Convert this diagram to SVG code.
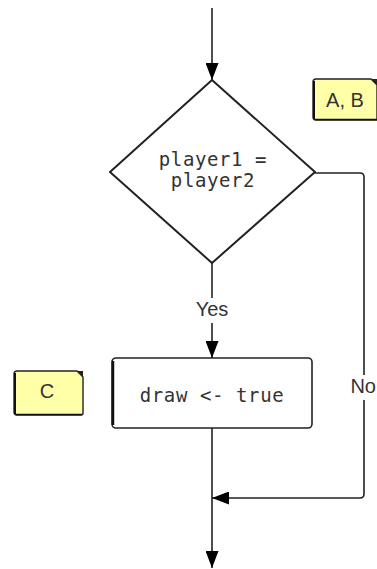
<svg xmlns="http://www.w3.org/2000/svg" width="377" height="569" viewBox="0 0 377 569">
  <defs>
    <marker id="arrow" viewBox="0 0 17 13" refX="17" refY="6.5" markerWidth="17" markerHeight="13" orient="auto" markerUnits="userSpaceOnUse">
      <path d="M0,0 L17,6.5 L0,13 Z" fill="#000"/>
    </marker>
  </defs>
  <style>
    .edge { fill: none; stroke: #222; stroke-width: 1.6; }
    .shape { fill: #fff; stroke: #222; stroke-width: 2; }
    .note { fill: #ffffa8; stroke: #222; stroke-width: 1.4; }
    .code { font-family: "DejaVu Sans Mono", "Liberation Mono", monospace; font-size: 19px; letter-spacing: 0.6px; fill: #333; text-anchor: middle; }
    .label { font-family: "Liberation Sans", Arial, sans-serif; font-size: 20px; fill: #333; text-anchor: middle; }
    .label.end { text-anchor: end; }
  </style>
  <rect width="377" height="569" fill="#fff"/>

  <g id="connectors">
    <!-- entry -->
    <line class="edge" x1="212" y1="8" x2="212" y2="80" marker-end="url(#arrow)"/>
    <!-- yes branch -->
    <line class="edge" x1="212" y1="263" x2="212" y2="298"/>
    <line class="edge" x1="212" y1="323" x2="212" y2="358" marker-end="url(#arrow)"/>
    <!-- no branch -->
    <path class="edge" d="M315,173 H360 Q364,173 364,177 V375"/>
    <path class="edge" d="M364,400 V494 Q364,498 360,498 H212" marker-end="url(#arrow)"/>
    <!-- exit -->
    <line class="edge" x1="212" y1="428" x2="212" y2="568" marker-end="url(#arrow)"/>
    <text class="label" x="212" y="316">Yes</text>
    <text class="label end" x="376" y="393">No</text>
  </g>

  <g id="decision">
    <polygon class="shape" points="212,80 315,172 212,263 110,172" stroke-linejoin="round"/>
    <text class="code" x="213" y="166">player1 =</text>
    <text class="code" x="213" y="187">player2</text>
  </g>

  <g id="assign">
    <rect x="112" y="358" width="200" height="70" rx="4" fill="#fff" stroke="#222" stroke-width="1.6"/>
    <line x1="113" y1="361" x2="113" y2="425" stroke="#111" stroke-width="2.5"/>
    <text class="code" x="212" y="402">draw &lt;- true</text>
  </g>

  <g id="note-ab">
    <path class="note" d="M316,79 H371 L377,85 V120 H316 Q313,120 313,117 V82 Q313,79 316,79 Z"/>
    <path d="M371,79 L377,85 L377,79 Z" fill="#222"/>
    <line x1="314" y1="81" x2="314" y2="119" stroke="#111" stroke-width="2"/>
    <line x1="315" y1="119.5" x2="377" y2="119.5" stroke="#111" stroke-width="1.6"/>
    <text class="label" x="345" y="107">A, B</text>
  </g>

  <g id="note-c">
    <path class="note" d="M17,371 H77 L83,377 V413 Q83,415 81,415 H17 Q14,415 14,412 V374 Q14,371 17,371 Z"/>
    <path d="M77,371 L83,377 L83,371 Z" fill="#222"/>
    <line x1="15" y1="373" x2="15" y2="414" stroke="#111" stroke-width="2"/>
    <line x1="16" y1="414.5" x2="82" y2="414.5" stroke="#111" stroke-width="1.6"/>
    <text class="label" x="47" y="398">C</text>
  </g>
</svg>
